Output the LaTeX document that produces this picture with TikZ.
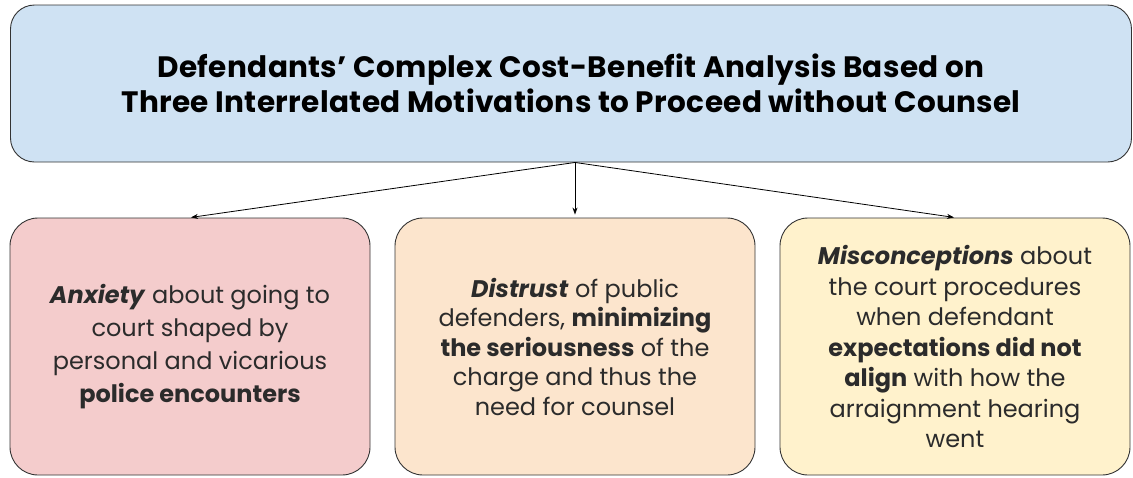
\documentclass[tikz,border=0pt]{standalone}
\usepackage{fontspec}
\setmainfont{Poppins}
\usetikzlibrary{arrows.meta}

\definecolor{topblue}{HTML}{CFE2F3}
\definecolor{anxred}{HTML}{F4CCCC}
\definecolor{distorange}{HTML}{FCE5CD}
\definecolor{misyellow}{HTML}{FFF2CC}
\definecolor{txtgray}{HTML}{2B2B2B}

\begin{document}
\begin{tikzpicture}[x=1pt,y=-1pt,
  box/.style = {draw=black!80, line width=0.9pt, rounded corners=28pt, align=center, text=txtgray},
  ->, >={Stealth[length=7pt,width=5pt]}, line width=0.8pt]

\useasboundingbox (0,0) rectangle (1133,477);

\node[box, fill=topblue, rounded corners=24pt, minimum width=1121pt, minimum height=157pt,
  font=\fontsize{29.5}{35}\selectfont\bfseries\addfontfeatures{LetterSpace=1.2}, text=black] (top) at (571,83.5)
  {Defendants’ Complex Cost-Benefit Analysis Based on\\
   Three Interrelated Motivations to Proceed without Counsel};

\node[box, fill=anxred, minimum width=360pt, minimum height=257pt,
  font=\fontsize{24}{33}\selectfont] (anx) at (190,346.5)
  {\textbf{\textit{Anxiety}} about going to\\ court shaped by\\
   personal and vicarious\\ \textbf{police encounters}};

\node[box, fill=distorange, minimum width=360pt, minimum height=257pt,
  font=\fontsize{24}{29.5}\selectfont] (dist) at (575,346.5)
  {\textbf{\textit{Distrust}} of public\\ defenders, \textbf{minimizing}\\
   \textbf{the seriousness} of the\\ charge and thus the\\ need for counsel};

\node[box, fill=misyellow, minimum width=350pt, minimum height=257pt,
  font=\fontsize{24}{30.5}\selectfont] (mis) at (955,346.5)
  {\textbf{\textit{Misconceptions}} about\\ the court procedures\\ when defendant\\
   \textbf{expectations did not}\\ \textbf{align} with how the\\ arraignment hearing\\ went};

\path (top.south -| dist.north) edge[shorten >=1pt] (anx.north);
\path (top.south -| dist.north) edge[shorten >=3pt] (dist.north);
\path (top.south -| dist.north) edge[shorten >=1pt] (mis.north);

\end{tikzpicture}
\end{document}
